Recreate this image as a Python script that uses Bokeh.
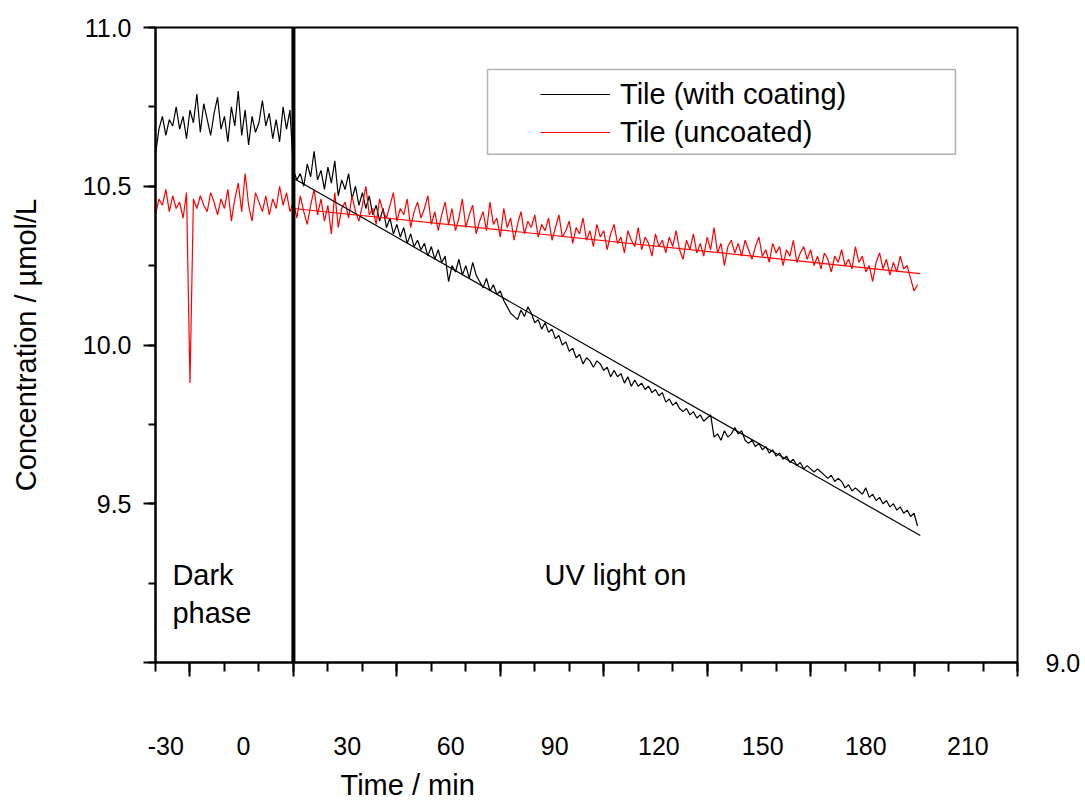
from bokeh.plotting import figure
from bokeh.models import (Span, Label, Legend, LegendItem, LinearAxis, FixedTicker, Title,
                          SingleIntervalTicker, BoxAnnotation, Range1d, PrintfTickFormatter)
from bokeh.core.properties import value
from bokeh.embed import file_html
from bokeh.resources import INLINE

# ---------------- data ----------------
time_min = list(range(-40, 182))

coated = [
    10.60, 10.68, 10.72, 10.66, 10.71, 10.69, 10.75, 10.68, 10.72, 10.65,
    10.74, 10.70, 10.79, 10.67, 10.76, 10.71, 10.66, 10.73, 10.78, 10.68,
    10.72, 10.64, 10.75, 10.69, 10.80, 10.66, 10.74, 10.63, 10.72, 10.67,
    10.70, 10.77, 10.69, 10.73, 10.65, 10.71, 10.64, 10.75, 10.68, 10.74,
    10.55, 10.52, 10.54, 10.50, 10.57, 10.53, 10.61, 10.52, 10.55, 10.49,
    10.56, 10.51, 10.58, 10.47, 10.52, 10.49, 10.54, 10.46, 10.50, 10.44,
    10.48, 10.43, 10.47, 10.41, 10.44, 10.39, 10.43, 10.37, 10.40, 10.35,
    10.38, 10.34, 10.37, 10.32, 10.35, 10.31, 10.33, 10.30, 10.32, 10.28,
    10.31, 10.27, 10.30, 10.26, 10.28, 10.20, 10.25, 10.23, 10.27, 10.22,
    10.25, 10.21, 10.26, 10.22, 10.20, 10.18, 10.21, 10.17, 10.19, 10.16,
    10.17, 10.14, 10.12, 10.10, 10.09, 10.08, 10.11, 10.09, 10.12, 10.10,
    10.07, 10.08, 10.05, 10.07, 10.04, 10.05, 10.02, 10.03, 10.00, 10.01,
    9.98, 9.99, 9.96, 9.97, 9.94, 9.96, 9.95, 9.93, 9.95, 9.94,
    9.92, 9.93, 9.90, 9.92, 9.90, 9.91, 9.88, 9.90, 9.87, 9.89,
    9.87, 9.88, 9.86, 9.87, 9.85, 9.86, 9.84, 9.85, 9.82, 9.83,
    9.81, 9.82, 9.80, 9.79, 9.80, 9.78, 9.79, 9.77, 9.78, 9.76,
    9.77, 9.78, 9.71, 9.72, 9.70, 9.73, 9.71, 9.72, 9.74, 9.72,
    9.73, 9.70, 9.69, 9.70, 9.68, 9.69, 9.67, 9.68, 9.66, 9.67,
    9.65, 9.66, 9.64, 9.65, 9.63, 9.64, 9.62, 9.63, 9.61, 9.62,
    9.61, 9.60, 9.61, 9.60, 9.59, 9.58, 9.59, 9.57, 9.58, 9.57,
    9.55, 9.56, 9.54, 9.55, 9.54, 9.53, 9.55, 9.52, 9.53, 9.51,
    9.52, 9.50, 9.51, 9.49, 9.50, 9.48, 9.49, 9.47, 9.48, 9.46,
    9.47, 9.43,
]

uncoated = [
    10.41, 10.46, 10.44, 10.49, 10.42, 10.47, 10.43, 10.45, 10.40, 10.48,
    9.88, 10.46, 10.43, 10.47, 10.44, 10.42, 10.48, 10.45, 10.41, 10.46,
    10.43, 10.49, 10.39, 10.46, 10.51, 10.42, 10.54, 10.44, 10.39, 10.48,
    10.45, 10.42, 10.47, 10.41, 10.46, 10.43, 10.50, 10.44, 10.48, 10.42,
    10.45, 10.40, 10.47, 10.42, 10.38, 10.44, 10.49, 10.41, 10.46, 10.39,
    10.44, 10.35, 10.48, 10.37, 10.43, 10.45, 10.40, 10.47, 10.42, 10.39,
    10.44, 10.50, 10.41, 10.43, 10.38, 10.46, 10.42, 10.40, 10.44, 10.48,
    10.39, 10.43, 10.41, 10.46, 10.37, 10.42, 10.45, 10.40, 10.43, 10.47,
    10.38, 10.42, 10.36, 10.41, 10.45, 10.38, 10.43, 10.36, 10.40, 10.46,
    10.37, 10.41, 10.44, 10.35, 10.39, 10.42, 10.36, 10.45, 10.38, 10.40,
    10.34, 10.43, 10.37, 10.40, 10.33, 10.38, 10.42, 10.35, 10.39, 10.37,
    10.41, 10.34, 10.38, 10.36, 10.40, 10.33, 10.37, 10.41, 10.34, 10.36,
    10.39, 10.32, 10.37, 10.35, 10.40, 10.33, 10.36, 10.31, 10.38, 10.34,
    10.36, 10.30, 10.35, 10.38, 10.32, 10.34, 10.29, 10.36, 10.33, 10.31,
    10.37, 10.30, 10.34, 10.32, 10.28, 10.35, 10.31, 10.33, 10.29, 10.34,
    10.31, 10.36, 10.30, 10.27, 10.33, 10.30, 10.35, 10.29, 10.32, 10.28,
    10.34, 10.30, 10.37, 10.29, 10.32, 10.25, 10.31, 10.33, 10.29, 10.32,
    10.28, 10.33, 10.30, 10.27, 10.31, 10.34, 10.28, 10.30, 10.26, 10.32,
    10.29, 10.31, 10.25, 10.30, 10.28, 10.33, 10.26, 10.29, 10.31, 10.27,
    10.30, 10.25, 10.28, 10.24, 10.29, 10.27, 10.23, 10.28, 10.26, 10.30,
    10.25, 10.27, 10.24, 10.31, 10.26, 10.28, 10.23, 10.25, 10.20, 10.26,
    10.29, 10.24, 10.27, 10.22, 10.26, 10.23, 10.28, 10.24, 10.25, 10.21,
    10.17, 10.19,
]

fit_time = [0, 181.8]
fit_coated = [10.525, 9.40]
fit_uncoated = [10.43, 10.225]

series_names = ["Tile (with coating)", "Tile (uncoated)"]

x_label_pos = [-37, -14.5, 15.6, 45.6, 75.8, 106, 136.1, 166, 195.6]
x_label_text = ["-30", "0", "30", "60", "90", "120", "150", "180", "210"]
x_major_ticks = [-30, 0, 30, 60, 90, 120, 150, 180, 210]
y_right_ticks = [9.0]

assert len(coated) == len(time_min) and len(uncoated) == len(time_min)

FONT = "Liberation Sans"
BIG = "29px"
TICK = "25px"

p = figure(width=1085, height=810, x_range=Range1d(-40, 210), y_range=Range1d(9.0, 11.0),
           x_axis_type=None, y_axis_type=None, output_backend="svg", toolbar_location=None,
           min_border_left=155, min_border_right=68, min_border_top=27, min_border_bottom=147)
p.background_fill_color = "white"
p.border_fill_color = "white"
p.outline_line_color = "black"
p.outline_line_width = 2

# y axis
yax = LinearAxis(ticker=SingleIntervalTicker(interval=0.5, num_minor_ticks=2),
                 formatter=PrintfTickFormatter(format="%.1f"),
                 major_label_overrides={9.0: ""},
                 axis_label="Concentration / µmol/L")
yax.axis_line_width = 2
yax.major_tick_out = 12
yax.major_tick_in = 0
yax.minor_tick_out = 7
yax.minor_tick_in = 0
yax.major_tick_line_width = 2
yax.minor_tick_line_width = 2
yax.major_label_standoff = 12
yax.major_label_text_font = FONT
yax.major_label_text_font_size = TICK
yax.major_label_text_color = "black"
yax.axis_label_text_font = FONT
yax.axis_label_text_font_size = BIG
yax.axis_label_text_font_style = "normal"
yax.axis_label_text_color = "black"
yax.axis_label_standoff = 38
p.add_layout(yax, "left")

# right side: the displaced "9.0" label of the original
yr = LinearAxis(ticker=FixedTicker(ticks=y_right_ticks, minor_ticks=[]),
                formatter=PrintfTickFormatter(format="%.1f"))
yr.axis_line_color = None
yr.major_tick_line_color = None
yr.minor_tick_line_color = None
yr.major_tick_out = 0
yr.major_tick_in = 0
yr.minor_tick_out = 0
yr.minor_tick_in = 0
yr.major_label_standoff = 28
yr.major_label_text_font = FONT
yr.major_label_text_font_size = TICK
yr.major_label_text_color = "black"
p.add_layout(yr, "right")

# x axis: tick marks
xa = LinearAxis(ticker=SingleIntervalTicker(interval=30, num_minor_ticks=3),
                major_label_overrides={v: "" for v in x_major_ticks})
xa.axis_line_width = 2
xa.major_tick_out = 14
xa.major_tick_in = 0
xa.minor_tick_out = 9
xa.minor_tick_in = 0
xa.major_tick_line_width = 2
xa.minor_tick_line_width = 2
xa.major_label_text_font_size = TICK
p.add_layout(xa, "below")

# x axis: tick labels (offset as in the original)
xb = LinearAxis(ticker=FixedTicker(ticks=x_label_pos, minor_ticks=[]),
                major_label_overrides=dict(zip(x_label_pos, x_label_text)))
xb.axis_line_color = None
xb.major_tick_line_color = None
xb.minor_tick_line_color = None
xb.major_tick_out = 0
xb.major_tick_in = 0
xb.minor_tick_out = 0
xb.minor_tick_in = 0
xb.major_label_standoff = 60
xb.major_label_text_font = FONT
xb.major_label_text_font_size = TICK
xb.major_label_text_color = "black"
p.add_layout(xb, "below")

# x axis title (placed left of centre, as in the original)
xt = Title(text="Time / min", align="left", offset=185, standoff=19,
           text_font=FONT, text_font_size=BIG, text_font_style="normal", text_color="black")
p.add_layout(xt, "below")

# data
r_c = p.line(time_min, coated, line_color="black", line_width=1.2)
r_u = p.line(time_min, uncoated, line_color="#ff0000", line_width=1.2)
p.line(fit_time, fit_coated, line_color="black", line_width=1.2)
p.line(fit_time, fit_uncoated, line_color="#ff0000", line_width=1.2)

# UV on marker
p.add_layout(Span(location=0, dimension="height", line_color="black", line_width=4))

# legend
legend = Legend(items=[LegendItem(label=value(series_names[0]), renderers=[r_c]),
                       LegendItem(label=value(series_names[1]), renderers=[r_u])],
                location=(385, 513))
legend.border_line_color = None
legend.background_fill_alpha = 0
legend.padding = 0
legend.margin = 0
legend.spacing = 4
legend.glyph_width = 70
legend.glyph_height = 34
legend.label_height = 34
legend.label_standoff = 10
legend.label_text_font = FONT
legend.label_text_font_size = BIG
legend.label_text_color = "black"
p.add_layout(legend)
p.add_layout(BoxAnnotation(left=56.3, right=192.0, top=10.868, bottom=10.601,
                           fill_alpha=0, line_color="black", line_width=1.5))

# annotations inside the frame
def add_text(x, y, txt):
    p.add_layout(Label(x=x, y=y, text=txt, text_font=FONT, text_font_size=BIG,
                       text_color="black", text_baseline="middle", text_align="left"))

add_text(-35.1, 9.277, "Dark")
add_text(-35.1, 9.157, "phase")
add_text(72.8, 9.277, "UV light on")

open("out.html", "w").write(file_html(p, INLINE))
